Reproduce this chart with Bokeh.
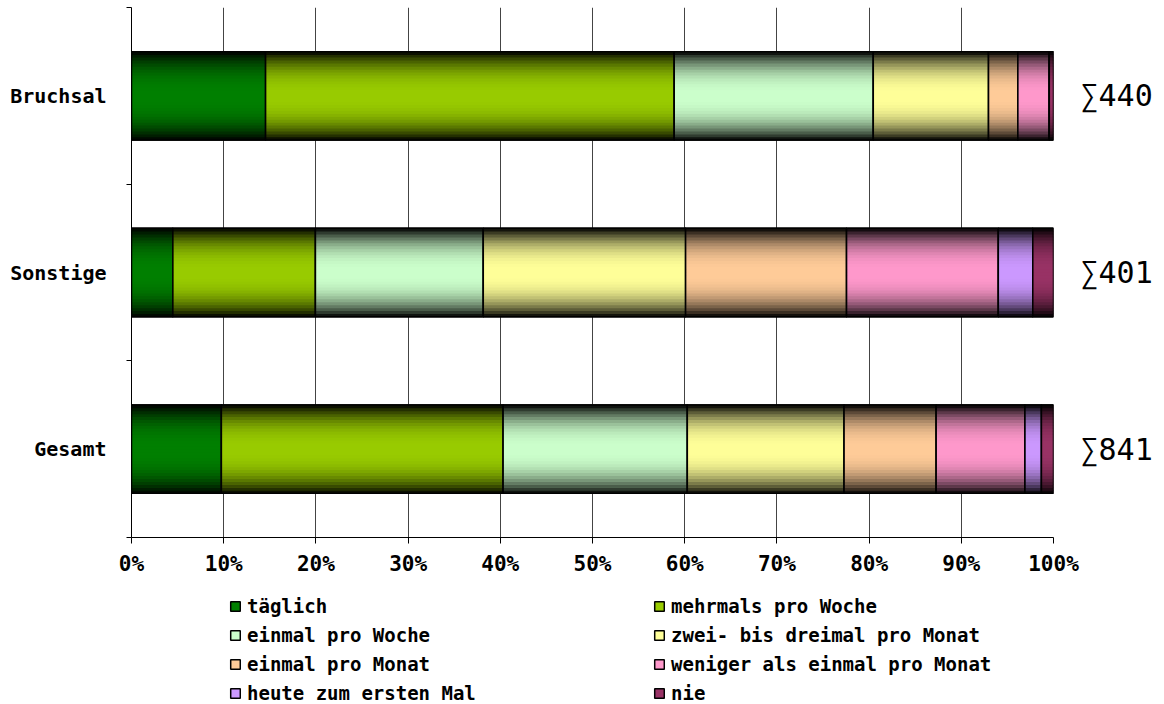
import numpy as np
from bokeh.plotting import figure
from bokeh.layouts import column
from bokeh.models import (ColumnDataSource, Range1d, FixedTicker, LinearAxis,
                          Legend, LegendItem, NumeralTickFormatter)
from bokeh.embed import file_html
from bokeh.resources import INLINE

# Survey: how often do visitors come (counts per answer)
groups = ["Bruchsal", "Sonstige", "Gesamt"]
answers = ["täglich", "mehrmals pro Woche", "einmal pro Woche",
           "zwei- bis dreimal pro Monat", "einmal pro Monat",
           "weniger als einmal pro Monat", "heute zum ersten Mal", "nie"]
bruchsal = [64, 195, 95, 55, 14, 15, 0, 2]
sonstige = [18, 62, 73, 88, 70, 66, 15, 9]
gesamt = [82, 257, 168, 143, 84, 81, 15, 11]
colors = ["#008000", "#99CC00", "#CCFFCC", "#FFFF99",
          "#FFCC99", "#FF99CC", "#CC99FF", "#993366"]
x_ticks = [0.0, 0.1, 0.2, 0.3, 0.4, 0.5, 0.6, 0.7, 0.8, 0.9, 1.0]

FONT = "DejaVu Sans Mono"
rows = [bruchsal, sonstige, gesamt]
y_pos = [2.5, 1.5, 0.5]          # top to bottom
bar_h = 0.5
n_strips = 30

def darken(hex_color, f):
    r, g, b = (int(hex_color[i:i + 2], 16) for i in (1, 3, 5))
    return "#%02x%02x%02x" % (int(r * f), int(g * f), int(b * f))

# share of each answer and running left/right edges per group
shares = [np.array(r, dtype=float) / sum(r) for r in rows]
rights = [np.cumsum(s) for s in shares]
lefts = [r - s for r, s in zip(rights, shares)]

p = figure(width=1164, height=590, output_backend="svg", toolbar_location=None,
           x_range=Range1d(0, 1), y_range=Range1d(0, 3),
           min_border_left=131, min_border_right=111,
           min_border_top=7, min_border_bottom=53)
p.outline_line_color = None
p.background_fill_color = "white"
p.border_fill_color = "white"

for j, col in enumerate(colors):
    ys = y_pos
    ls = [float(lefts[g][j]) for g in range(3)]
    rs = [float(rights[g][j]) for g in range(3)]
    p.hbar(y=ys, left=ls, right=rs, height=bar_h, fill_color=col,
           line_color="black", line_width=1.5)

    # vertical shading: dark at the top and bottom edge, full colour in the middle
    sy, sl, sr, sc = [], [], [], []
    for g in range(3):
        for k in range(n_strips):
            t = (k + 0.5) / n_strips * 2 - 1
            f = max(1 - abs(t) ** 2.5, 0.06)
            sy.append(y_pos[g] - bar_h / 2 + (k + 0.5) * bar_h / n_strips)
            sl.append(ls[g])
            sr.append(rs[g])
            sc.append(darken(col, f))
    src = ColumnDataSource(dict(y=sy, left=sl, right=sr, c=sc))
    p.hbar(y="y", left="left", right="right", height=bar_h / n_strips * 1.2,
           fill_color="c", line_color=None, source=src)

    p.hbar(y=ys, left=ls, right=rs, height=bar_h, fill_color=None,
           line_color="black", line_width=1.5)

# x axis in percent
xax = p.xaxis[0]
xax.ticker = FixedTicker(ticks=x_ticks, minor_ticks=[])
xax.formatter = NumeralTickFormatter(format="0%")
xax.major_tick_out = 6
xax.major_tick_in = 0
xax.axis_line_color = "black"
xax.major_tick_line_color = "black"
xax.major_label_text_font = FONT
xax.major_label_text_font_style = "bold"
xax.major_label_text_font_size = "21px"
xax.major_label_text_color = "black"
xax.major_label_standoff = 8

# category axis on the left
yax = p.yaxis[0]
yax.ticker = FixedTicker(ticks=y_pos, minor_ticks=[0, 1, 2, 3])
yax.major_label_overrides = {y: name for y, name in zip(y_pos, groups)}
yax.major_tick_out = 0
yax.major_tick_in = 0
yax.minor_tick_out = 5
yax.minor_tick_in = 0
yax.minor_tick_line_color = "black"
yax.axis_line_color = "black"
yax.major_label_text_font = FONT
yax.major_label_text_font_style = "bold"
yax.major_label_text_font_size = "20px"
yax.major_label_text_color = "black"
yax.major_label_standoff = 20

# totals on the right
rax = LinearAxis(ticker=FixedTicker(ticks=y_pos, minor_ticks=[]),
                 major_label_overrides={y: "∑%d" % sum(r) for y, r in zip(y_pos, rows)})
rax.axis_line_color = None
rax.major_tick_line_color = None
rax.minor_tick_line_color = None
rax.major_label_text_font = FONT
rax.major_label_text_font_size = "30px"
rax.major_label_text_color = "black"
rax.major_label_standoff = 21
p.add_layout(rax, "right")

p.xgrid.ticker = FixedTicker(ticks=x_ticks, minor_ticks=[])
p.xgrid.grid_line_color = "#444444"
p.xgrid.grid_line_width = 1
p.ygrid.grid_line_color = None

# legend panel below the bars (its frame lines up with the chart frame)
lg = figure(width=1164, height=114, output_backend="svg", toolbar_location=None,
            x_axis_type=None, y_axis_type=None, x_range=Range1d(0, 1),
            y_range=Range1d(0, 1), min_border=0)
lg.outline_line_color = None
lg.xgrid.grid_line_color = None
lg.ygrid.grid_line_color = None
# swatch glyphs carry no drawable position; only their legend entries show
swatches = [lg.hbar(y=[float("nan")], left=[float("nan")], right=[float("nan")],
                    height=1, fill_color=c, line_color="black", line_width=1.5)
            for c in colors]
legend = Legend(items=[LegendItem(label=a, renderers=[r])
                       for a, r in zip(answers, swatches)],
                orientation="horizontal", ncols=2, location=(98, 0),
                glyph_width=12, glyph_height=12, label_standoff=6,
                label_width=399, label_height=20, spacing=7,
                padding=0, margin=0, border_line_color=None,
                background_fill_alpha=0,
                label_text_font=FONT, label_text_font_style="bold",
                label_text_font_size="19px", label_text_color="black")
lg.add_layout(legend, "center")

open("out.html", "w").write(file_html(column(p, lg), INLINE))
